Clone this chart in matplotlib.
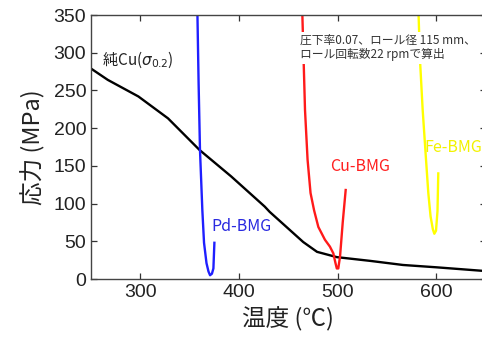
import matplotlib
matplotlib.use("Agg")
import matplotlib.pyplot as plt

plt.rcParams['font.family'] = ['Noto Sans CJK JP', 'DejaVu Sans']

# 純Cu (0.2%耐力)
cu_temp = [250, 267, 298, 328, 360, 392, 426, 431, 448, 465, 479, 499, 533, 566, 600, 650]
cu_stress = [279, 264, 242, 213, 171, 136, 96, 89, 69, 49, 36, 29, 24, 18.6, 15.5, 10.5]

# Pd-BMG
pd_temp = [357.7, 359.0, 360.4, 362.8, 364.5, 367.0, 369.0, 370.6, 372.5, 374.0, 375.0]
pd_stress = [360, 260, 171, 91, 48, 21, 10, 5, 7, 14, 48]

# Cu-BMG
cub_temp = [463.9, 466.8, 469.4, 472.4, 476.0, 480.3, 487.0, 492.0, 495.5, 497.5, 499.0, 500.5, 502.3, 505.0, 508.0]
cub_stress = [360, 224, 158, 114, 91, 69, 52, 43, 34, 22, 14, 14, 30, 75, 118]

# Fe-BMG
fe_temp = [581.6, 583.3, 586.0, 589.4, 591.7, 594.0, 596.3, 597.8, 599.5, 601.0, 601.8]
fe_stress = [360, 290, 224, 158, 114, 83, 66, 60, 64, 90, 140]

fig = plt.figure(figsize=(4.82, 3.45), dpi=100)
ax = fig.add_axes([0.1888, 0.1913, 0.8192, 0.7652])

ax.plot(cu_temp, cu_stress, color="black", lw=1.7, solid_joinstyle="round")
ax.plot(pd_temp, pd_stress, color="#1f1fff", lw=1.7, solid_joinstyle="round")
ax.plot(cub_temp, cub_stress, color="#ff1a1a", lw=1.7, solid_joinstyle="round")
ax.plot(fe_temp, fe_stress, color="#ffff00", lw=1.7, solid_joinstyle="round")

ax.set_xlim(250, 650)
ax.set_ylim(0, 350)
ax.set_xticks([300, 400, 500, 600])
ax.set_yticks(range(0, 351, 50))
ax.tick_params(direction="in", top=True, right=True, length=4, width=0.9,
               labelsize=14, colors="#333333", labelcolor="#222222")
for lab in ax.get_xticklabels() + ax.get_yticklabels():
    lab.set_family(["Liberation Sans", "DejaVu Sans"])
for s in ax.spines.values():
    s.set_color("#444444")
    s.set_linewidth(1.0)

ax.set_xlabel("温度 (℃)", fontsize=17, color="#222222", labelpad=4)
ax.set_ylabel("応力 (MPa)", fontsize=17, color="#222222", labelpad=6)

ax.text(261, 290, "純Cu($\\sigma_{0.2}$)", fontsize=11, color="#222222", va="center")
ax.text(371.5, 69, "Pd-BMG", fontsize=11.5, color="#2a2ae0", va="center")
ax.text(492, 149, "Cu-BMG", fontsize=11.5, color="#ff2020", va="center")
ax.text(588, 175, "Fe-BMG", fontsize=11.5, color="#f2f200", va="center")
ax.text(461.5, 325, "圧下率0.07、ロール径 115 mm、\nロール回転数22 rpmで算出",
        fontsize=8.5, color="#333333", va="top", linespacing=1.15,
        bbox=dict(facecolor="white", edgecolor="none", pad=1.5))

fig.savefig("out.png", dpi=100)
